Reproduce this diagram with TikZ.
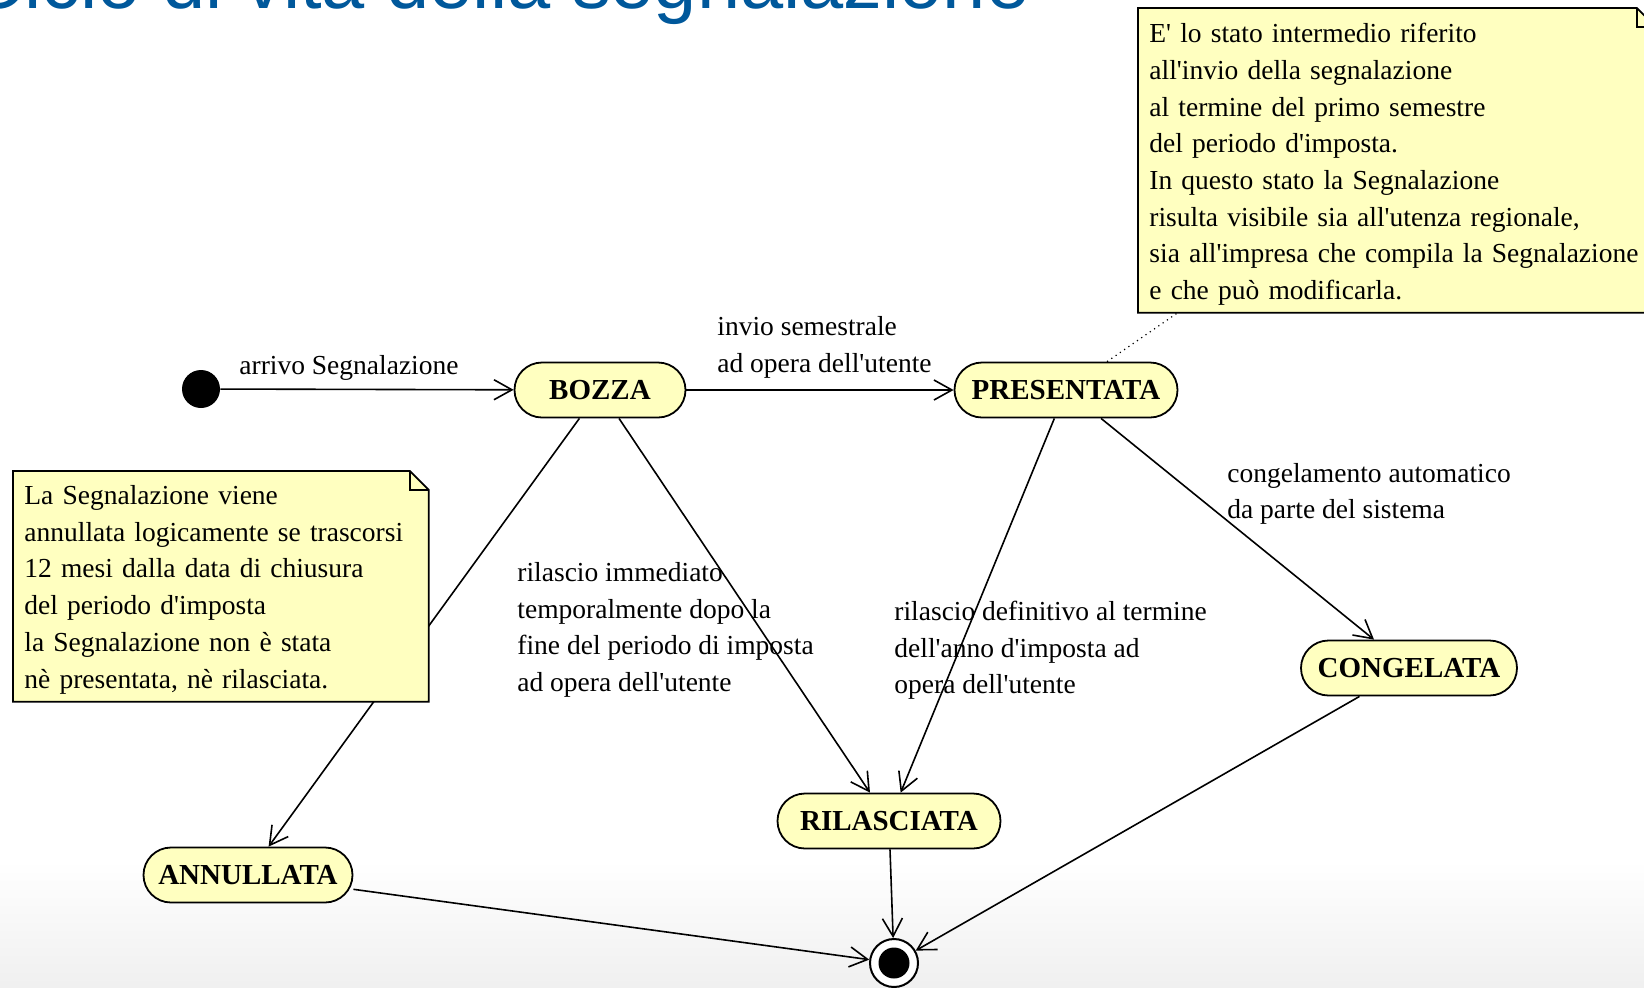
\documentclass[tikz,border=0pt]{standalone}
\usepackage{fontspec}
\setmainfont{Liberation Serif}
\newfontfamily\titlefont{Liberation Sans}
\usetikzlibrary{arrows.meta}

\definecolor{stateyellow}{RGB}{255,255,192}
\definecolor{titleblue}{RGB}{0,88,155}
\newcommand{\diagfont}{\fontsize{13.75pt}{18.35pt}\selectfont}
\newcommand{\apos}{\textquotesingle}

\tikzset{
  statebox/.style={draw, line width=0.9pt, fill=stateyellow, rectangle,
    rounded corners=13.75pt, minimum height=27.5pt, inner sep=0pt,
    font=\fontsize{14.5pt}{17pt}\selectfont\bfseries},
  notebox/.style={fill=stateyellow, align=left, inner xsep=5.5pt, inner ysep=0pt,
    anchor=north west, font=\diagfont},
  noteline/.style={line width=0.9pt},
  trans/.style={line width=0.8pt, -{Straight Barb[length=9pt,width=10pt]}},
  lbl/.style={inner sep=0pt, align=left, anchor=west, font=\diagfont}
}

\begin{document}
\begin{tikzpicture}[x=0.5pt, y=-0.5pt]
    \useasboundingbox (0,0) rectangle (1644,987);

    % Background and title (cut at the top)
    \shade[top color=white, bottom color=black!6] (0,860) rectangle (1644,987);
    \node[anchor=base west, inner sep=0pt, text=titleblue,
      font=\fontsize{38.8pt}{40pt}\selectfont\titlefont] (title) at (-32,8)
      {Ciclo di vita della segnalazione};

    % Initial and final states
    \node[circle, fill=black, minimum size=19pt, inner sep=0pt] (init) at (201,389) {};
    \node[circle, draw, line width=1pt, fill=white, minimum size=24pt, inner sep=0pt] (fin) at (894,963) {};
    \node[circle, fill=black, minimum size=15.5pt, inner sep=0pt] (finDot) at (fin.center) {};

    % States
    \node[statebox, minimum width=85.5pt] (bozza) at (600,390) {BOZZA};
    \node[statebox, minimum width=111.5pt] (presentata) at (1066,390) {PRESENTATA};
    \node[statebox, minimum width=108pt] (congelata) at (1409,668) {CONGELATA};
    \node[statebox, minimum width=111.5pt] (rilasciata) at (889,821) {RILASCIATA};
    \node[statebox, minimum width=104.5pt] (annullata) at (248,875) {ANNULLATA};

    % Transitions
    \draw[trans] (init) -- (bozza);
    \draw[trans] (bozza) -- (presentata);
    \draw[trans] (bozza) -- (annullata);
    \draw[trans] (bozza) -- (rilasciata);
    \draw[trans] (presentata) -- (rilasciata);
    \draw[trans] (presentata) -- (congelata);
    \draw[trans] (annullata) -- (fin);
    \draw[trans] (rilasciata) -- (fin);
    \draw[trans] (congelata) -- (fin);

    % Transition labels
    \node[lbl] (lblArrivo) at (239,368) {arrivo Segnalazione};
    \node[lbl] (lblInvio) at (717,347.5) {invio semestrale\\ad opera dell\apos utente};
    \node[lbl] (lblImmediato) at (517,630) {rilascio immediato\\temporalmente dopo la\\fine del periodo di imposta\\ad opera dell\apos utente};
    \node[lbl] (lblDefinitivo) at (894,650.5) {rilascio definitivo al termine\\dell\apos anno d\apos imposta ad\\opera dell\apos utente};
    \node[lbl] (lblCongela) at (1227,494) {congelamento automatico\\da parte del sistema};

    % Notes
    \node[notebox, text width=196.5pt, minimum height=115pt] (noteAnn) at (13,471)
      {\rule{0pt}{12.8pt}La Segnalazione viene\\annullata logicamente se trascorsi\\12 mesi dalla data di chiusura\\del periodo d\apos imposta\\la Segnalazione non è stata\\nè presentata, nè rilasciata.};
    \node[notebox, text width=247.5pt, minimum height=152pt] (notePres) at (1138,8)
      {\rule{0pt}{13.6pt}E\apos{} lo stato intermedio riferito\\all\apos invio della segnalazione\\al termine del primo semestre\\del periodo d\apos imposta.\\In questo stato la Segnalazione\\risulta visibile sia all\apos utenza regionale,\\sia all\apos impresa che compila la Segnalazione\\e che può modificarla.};
    \draw[dotted, line width=0.6pt] (presentata) -- (notePres);

    % Folded corners of the notes
    \foreach \n in {noteAnn,notePres} {
      \fill[white] ([xshift=-9.5pt]\n.north east) -- (\n.north east) -- ([yshift=-9.5pt]\n.north east) -- cycle;
      \draw[noteline] (\n.north west) -- ([xshift=-9.5pt]\n.north east) -- ([yshift=-9.5pt]\n.north east)
        -- (\n.south east) -- (\n.south west) -- cycle;
      \draw[noteline] ([xshift=-9.5pt]\n.north east) |- ([yshift=-9.5pt]\n.north east);
    }
\end{tikzpicture}
\end{document}
